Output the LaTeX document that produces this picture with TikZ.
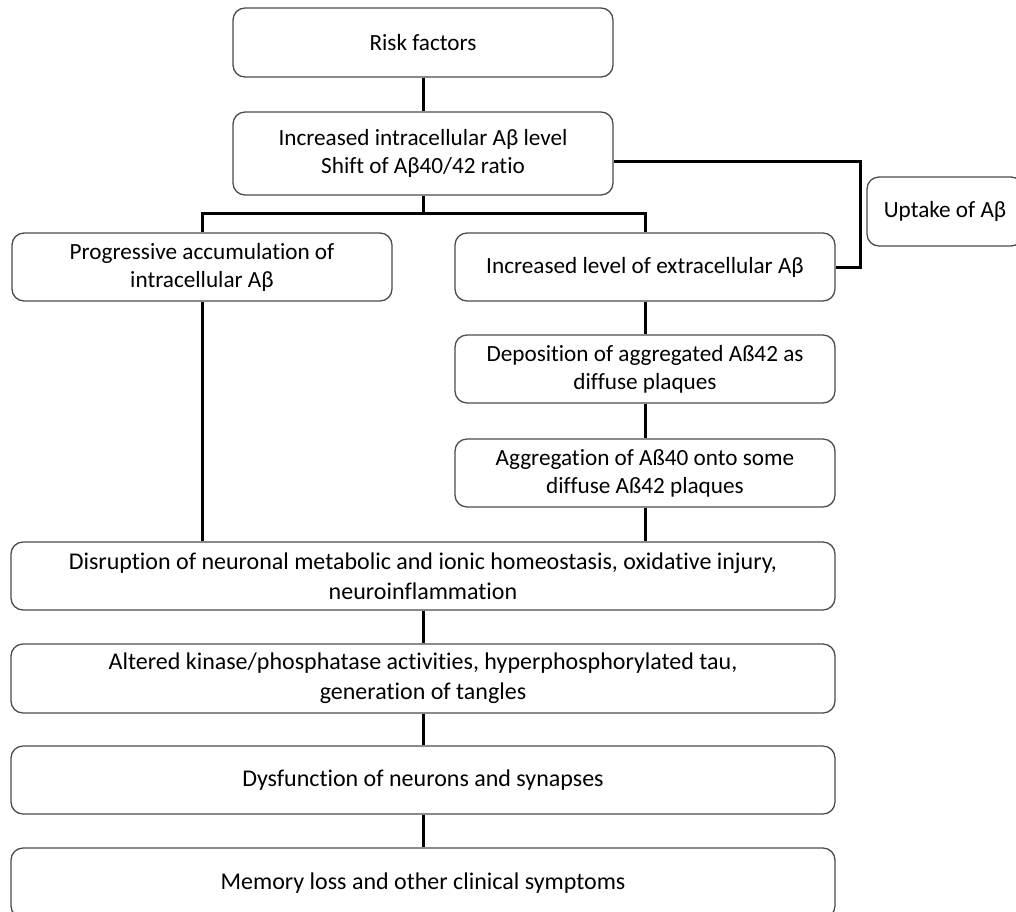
\documentclass[tikz,border=0pt]{standalone}
\usepackage{fontspec}
\setmainfont{Carlito}[Ligatures=NoCommon]
\begin{document}
\begin{tikzpicture}[x=1pt,y=-1pt,
  block/.style={rectangle,rounded corners=12pt,draw=black!70,line width=1.3pt,align=center,inner sep=0pt,minimum width=380pt,minimum height=68pt,font=\fontsize{23.2}{28}\selectfont},
  wide/.style={block,minimum width=824pt,font=\fontsize{24}{30}\selectfont},
  link/.style={line width=3pt}]
\useasboundingbox (0,0) rectangle (1016,911);
\path
(423,42.5) node [block,minimum height=69pt] (risk) {Risk factors}
(423,153.5) node [block,minimum height=83pt] (inc) {Increased intracellular Aβ level\\Shift of Aβ40/42 ratio}
(945,211.5) node [block,minimum width=156pt,minimum height=69pt] (upt) {Uptake of Aβ}
(202,267) node [block] (prog) {Progressive accumulation of\\intracellular Aβ}
(645,267) node [block] (ext) {Increased level of extracellular Aβ}
(645,369) node [block] (dep) {Deposition of aggregated Aß42 as\\diffuse plaques}
(645,473) node [block] (agg) {Aggregation of Aß40 onto some\\diffuse Aß42 plaques}
(423,576) node [wide] (dis) {Disruption of neuronal metabolic and ionic homeostasis, oxidative injury,\\neuroinflammation}
(423,678.5) node [wide,minimum height=69pt] (alt) {Altered kinase/phosphatase activities, hyperphosphorylated tau,\\generation of tangles}
(423,780) node [wide] (dys) {Dysfunction of neurons and synapses}
(423,883) node [wide,minimum height=70pt] (mem) {Memory loss and other clinical symptoms}
;
\coordinate (split) at (423,213);
\coordinate (bend) at (860,0);

\draw[link] (risk) -- (inc);
\draw[link] ([yshift=-8pt]inc.east) -| (bend |- ext.east) -- (ext.east);
\draw[link] (inc.south) -- (split);
\draw[link] (prog.north) |- (split) -| (ext.north);
\draw[link] (ext) -- (dep);
\draw[link] (dep) -- (agg);
\draw[link] (agg.south) -- (agg.south |- dis.north);
\draw[link] (prog.south) -- (prog.south |- dis.north);
\draw[link] (dis) -- (alt);
\draw[link] (alt) -- (dys);
\draw[link] (dys) -- (mem);
\end{tikzpicture}
\end{document}
